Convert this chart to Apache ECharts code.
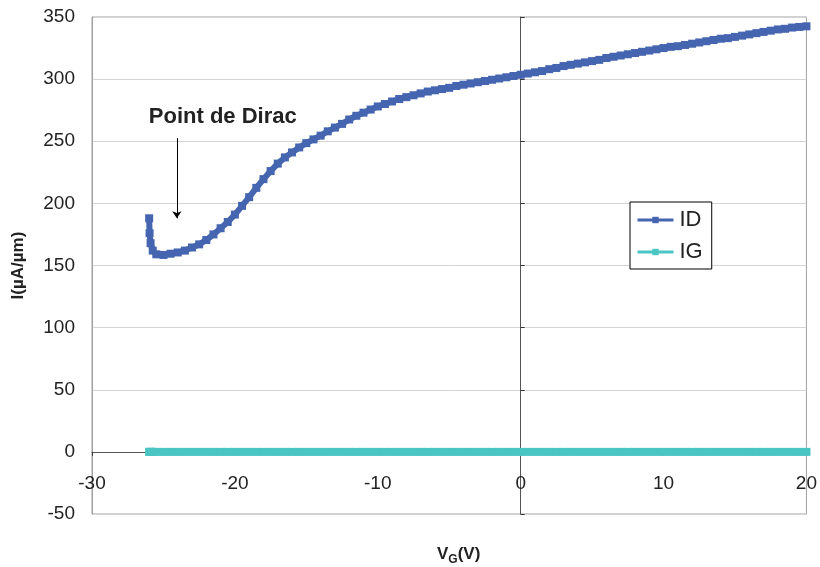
<!DOCTYPE html>
<html>
<head>
<meta charset="utf-8">
<script src="https://cdn.jsdelivr.net/npm/echarts@6/dist/echarts.min.js"></script>
<style>html,body{margin:0;padding:0;background:#fff}#c{width:820px;height:567px}</style>
</head>
<body>
<div id="c"></div>
<script>
// Gate voltage (V) and drain current ID (µA/µm)
const vg = [-26.0,-25.97,-25.9,-25.75,-25.5,-25.0,-24.5,-24.0,-23.5,-23.0,-22.5,-22.0,-21.5,-21.0,-20.5,-20.0,-19.5,-19.0,-18.5,-18.0,-17.5,-17.0,-16.5,-16.0,-15.5,-15.0,-14.5,-14.0,-13.5,-13.0,-12.5,-12.0,-11.5,-11.0,-10.5,-10.0,-9.5,-9.0,-8.5,-8.0,-7.5,-7.0,-6.5,-6.0,-5.5,-5.0,-4.5,-4.0,-3.5,-3.0,-2.5,-2.0,-1.5,-1.0,-0.5,0,0.5,1,1.5,2,2.5,3,3.5,4,4.5,5,5.5,6,6.5,7,7.5,8,8.5,9,9.5,10,10.5,11,11.5,12,12.5,13,13.5,14,14.5,15,15.5,16,16.5,17,17.5,18,18.5,19,19.5,20];
const idValues = [188,176,168,162,159,158.5,159.5,160.5,162,164.5,167,170.5,175,180,185,191,198,205,212.5,219.5,226,232,237,241,245,248.5,251.5,254.5,258,261,264,267.5,270.5,273,275.5,278,280,282,284,285.5,287,288.5,290,291,292,293,294.5,295.5,296.5,297.5,298.5,299.5,300.5,301.5,302.5,303.5,304.5,305.5,306.5,308,309,310.5,311.5,312.5,313.5,314.5,315.5,317,318,319,320,321,322,323,324,325,326,326.5,327.5,328.5,329.5,330.5,331.5,332.5,333,334,335,336,337,338,339,340,340.5,341.5,342,342.5];
// Gate leakage IG (µA/µm): indistinguishable from zero at this scale
const igValues = vg.map(() => 0);
const xTicks = {min: -30, max: 20, interval: 10};
const yTicks = {min: -50, max: 350, interval: 50};
const annotationText = 'Point de Dirac';
const annotationPos = [-20.85, 269.5];
const arrowFrom = [-24.06, 252.5];
const arrowTo = [-24.06, 188];

const FONT = '"Liberation Sans", Arial, sans-serif';
const BLUE = '#4565B0';
const TEAL = '#4BC4C4';

const chart = echarts.init(document.getElementById('c'), null, {renderer: 'canvas'});
chart.setOption({
  animation: false,
  backgroundColor: '#fff',
  title: {
    text: '{v|V}{g|G}{v|(V)}',
    left: 432, top: 541,
    textStyle: {
      rich: {
        v: {fontSize: 17, fontWeight: 'bold', fontFamily: FONT, color: '#222'},
        g: {fontSize: 12, fontWeight: 'bold', fontFamily: FONT, color: '#222', verticalAlign: 'bottom', padding: [0, 0, -3, 0]}
      }
    }
  },
  grid: {left: 92, right: 12, top: 17, bottom: 53, show: true, borderColor: '#a0a0a0', borderWidth: 1},
  legend: {
    orient: 'vertical', left: 630, top: 202,
    padding: [7, 9, 6, 6], itemGap: 10,
    itemWidth: 36, itemHeight: 8,
    borderColor: '#000', borderWidth: 1, backgroundColor: '#fff',
    lineStyle: {width: 3},
    textStyle: {fontSize: 22, fontFamily: FONT, color: '#222', lineHeight: 22, padding: [0, 0, 0, 1]},
    data: ['ID', 'IG']
  },
  xAxis: {
    type: 'value', min: xTicks.min, max: xTicks.max, interval: xTicks.interval,
    axisLine: {onZero: true, onZeroAxisIndex: 0, lineStyle: {color: '#555', width: 1}},
    axisTick: {show: true, length: 4, lineStyle: {color: '#333'}},
    axisLabel: {fontSize: 19, fontFamily: FONT, color: '#222', margin: -40},
    splitLine: {show: false}
  },
  yAxis: [{
    type: 'value', min: yTicks.min, max: yTicks.max, interval: yTicks.interval,
    name: 'I(µA/µm)', nameLocation: 'middle', nameGap: 65,
    nameTextStyle: {fontSize: 17, fontWeight: 'bold', fontFamily: FONT, color: '#222'},
    axisLine: {show: true, onZero: false, lineStyle: {color: '#a0a0a0'}},
    axisTick: {show: false},
    axisLabel: {fontSize: 19, fontFamily: FONT, color: '#222', margin: 17},
    splitLine: {show: true, lineStyle: {color: '#d4d4d4', width: 1}}
  }, {
    type: 'value', min: yTicks.min, max: yTicks.max, interval: yTicks.interval,
    position: 'left',
    axisLine: {show: true, onZero: true, lineStyle: {color: '#555', width: 1}},
    axisTick: {show: true, inside: true, length: 4, lineStyle: {color: '#333'}},
    axisLabel: {show: false},
    splitLine: {show: false}
  }],
  series: [{
    name: 'ID', type: 'line', yAxisIndex: 0,
    data: vg.map((x, i) => [x, idValues[i]]),
    symbol: 'rect', symbolSize: 8, showAllSymbol: true,
    itemStyle: {color: BLUE}, lineStyle: {color: BLUE, width: 6},
    z: 3,
    markLine: {
      silent: true, symbol: ['none', 'arrow'], symbolSize: 7,
      lineStyle: {color: '#000', width: 1, type: 'solid'},
      label: {show: false},
      data: [[{coord: arrowFrom}, {coord: arrowTo}]]
    },
    markPoint: {
      silent: true, symbol: 'circle', symbolSize: 1,
      itemStyle: {color: 'rgba(0,0,0,0)'},
      label: {show: true, position: 'inside', formatter: annotationText, fontSize: 22, fontWeight: 'bold', fontFamily: FONT, color: '#222'},
      data: [{coord: annotationPos}]
    }
  }, {
    name: 'IG', type: 'line', yAxisIndex: 0,
    data: vg.map((x, i) => [x, igValues[i]]),
    symbol: 'rect', symbolSize: 8, showAllSymbol: true,
    itemStyle: {color: TEAL}, lineStyle: {color: TEAL, width: 7},
    z: 3
  }]
});
</script>
</body>
</html>
